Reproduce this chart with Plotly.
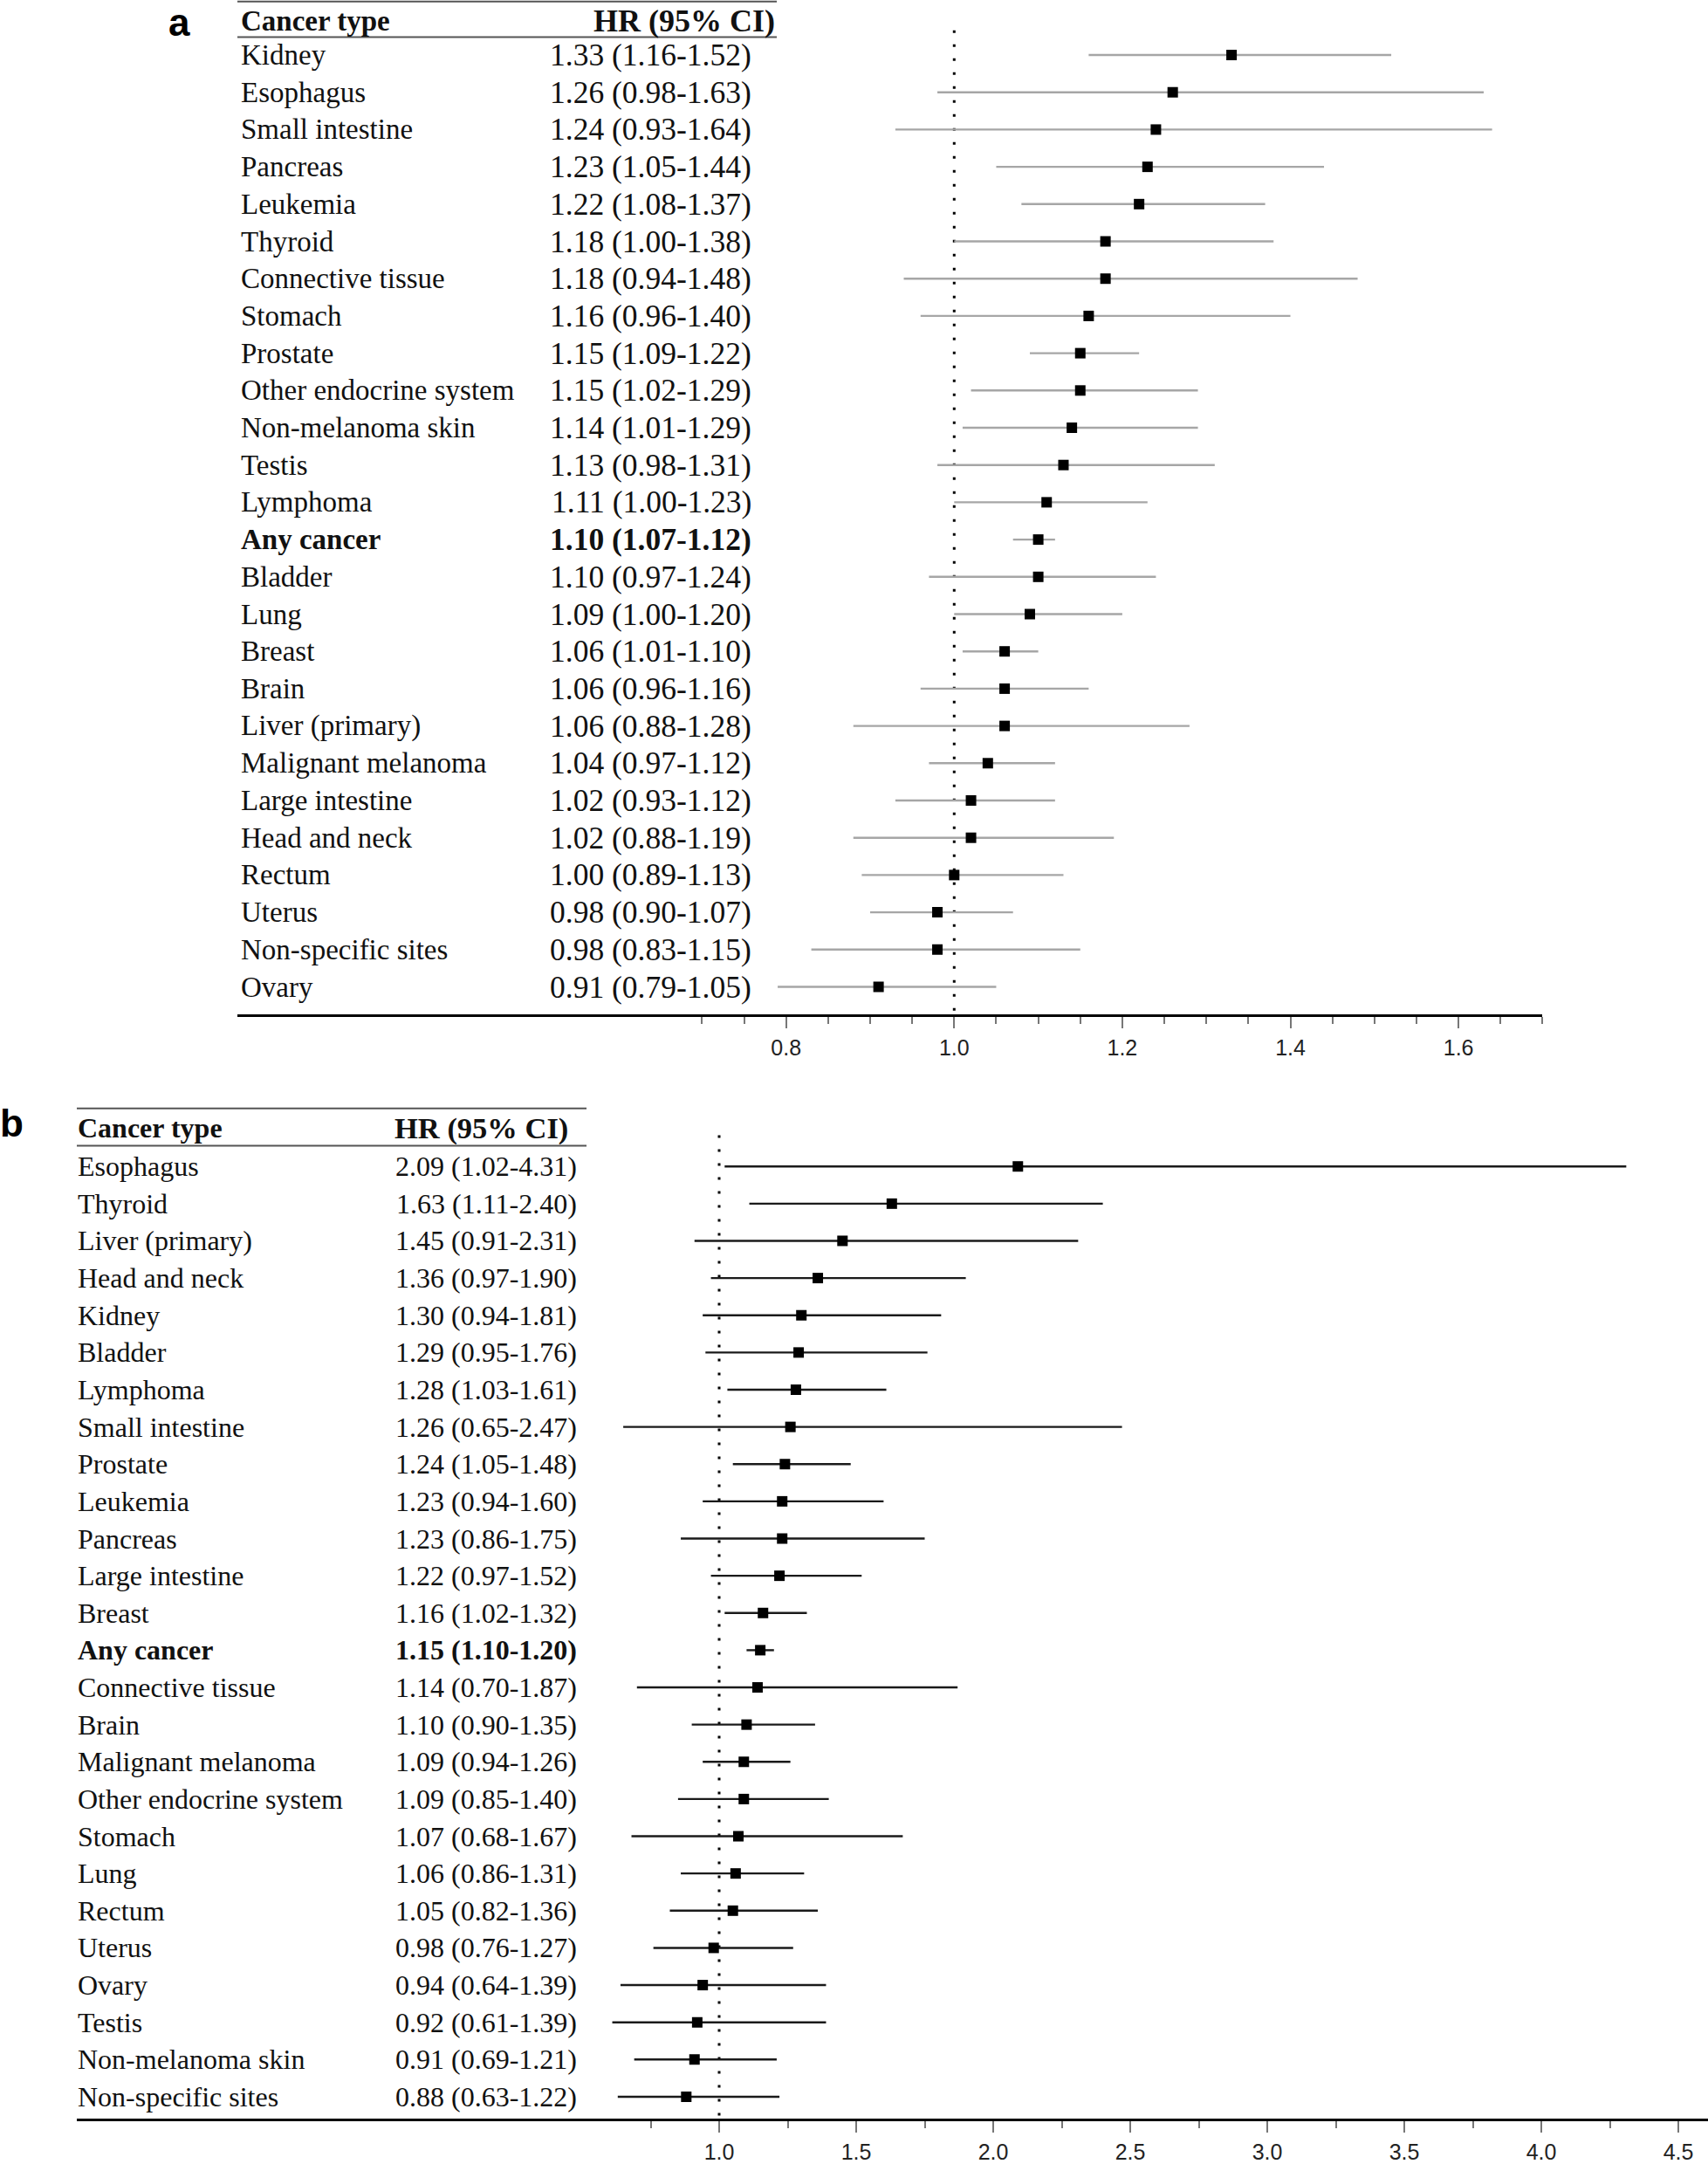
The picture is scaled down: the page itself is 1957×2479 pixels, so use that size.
import plotly.graph_objects as go

W, H = 1957, 2479

# ---------------- data ----------------
names_a = ["Kidney", "Esophagus", "Small intestine", "Pancreas", "Leukemia", "Thyroid",
           "Connective tissue", "Stomach", "Prostate", "Other endocrine system",
           "Non-melanoma skin", "Testis", "Lymphoma", "Any cancer", "Bladder", "Lung",
           "Breast", "Brain", "Liver (primary)", "Malignant melanoma", "Large intestine",
           "Head and neck", "Rectum", "Uterus", "Non-specific sites", "Ovary"]
hr_a = [1.33, 1.26, 1.24, 1.23, 1.22, 1.18, 1.18, 1.16, 1.15, 1.15, 1.14, 1.13, 1.11,
        1.10, 1.10, 1.09, 1.06, 1.06, 1.06, 1.04, 1.02, 1.02, 1.00, 0.98, 0.98, 0.91]
lo_a = [1.16, 0.98, 0.93, 1.05, 1.08, 1.00, 0.94, 0.96, 1.09, 1.02, 1.01, 0.98, 1.00,
        1.07, 0.97, 1.00, 1.01, 0.96, 0.88, 0.97, 0.93, 0.88, 0.89, 0.90, 0.83, 0.79]
hi_a = [1.52, 1.63, 1.64, 1.44, 1.37, 1.38, 1.48, 1.40, 1.22, 1.29, 1.29, 1.31, 1.23,
        1.12, 1.24, 1.20, 1.10, 1.16, 1.28, 1.12, 1.12, 1.19, 1.13, 1.07, 1.15, 1.05]

names_b = ["Esophagus", "Thyroid", "Liver (primary)", "Head and neck", "Kidney", "Bladder",
           "Lymphoma", "Small intestine", "Prostate", "Leukemia", "Pancreas",
           "Large intestine", "Breast", "Any cancer", "Connective tissue", "Brain",
           "Malignant melanoma", "Other endocrine system", "Stomach", "Lung", "Rectum",
           "Uterus", "Ovary", "Testis", "Non-melanoma skin", "Non-specific sites"]
hr_b = [2.09, 1.63, 1.45, 1.36, 1.30, 1.29, 1.28, 1.26, 1.24, 1.23, 1.23, 1.22, 1.16,
        1.15, 1.14, 1.10, 1.09, 1.09, 1.07, 1.06, 1.05, 0.98, 0.94, 0.92, 0.91, 0.88]
lo_b = [1.02, 1.11, 0.91, 0.97, 0.94, 0.95, 1.03, 0.65, 1.05, 0.94, 0.86, 0.97, 1.02,
        1.10, 0.70, 0.90, 0.94, 0.85, 0.68, 0.86, 0.82, 0.76, 0.64, 0.61, 0.69, 0.63]
hi_b = [4.31, 2.40, 2.31, 1.90, 1.81, 1.76, 1.61, 2.47, 1.48, 1.60, 1.75, 1.52, 1.32,
        1.20, 1.87, 1.35, 1.26, 1.40, 1.67, 1.31, 1.36, 1.27, 1.39, 1.39, 1.21, 1.22]

ticks_a = [0.8, 1.0, 1.2, 1.4, 1.6]
minor_a = [0.70, 0.75, 0.85, 0.90, 0.95, 1.05, 1.10, 1.15, 1.25, 1.30, 1.35, 1.45,
           1.50, 1.55, 1.65, 1.70]
ticks_b = [1.0, 1.5, 2.0, 2.5, 3.0, 3.5, 4.0, 4.5]
minor_b = [0.75, 1.25, 1.75, 2.25, 2.75, 3.25, 3.75, 4.25]

BOLD_ROW = "Any cancer"
HEAD_NAME = "Cancer type"
HEAD_HR = "HR (95% CI)"

SERIF = "Liberation Serif, Times New Roman, serif"
SANS = "Liberation Sans, Arial, sans-serif"


def px(x):
    return x / W


def py(y):
    return 1 - y / H


fig = go.Figure()

# axes geometry (pixels)
a_left, a_right, a_axis = 272, 1767.4, 1165
a_v1, a_scale = 1093.3, 963.0
b_left, b_right, b_axis = 88, 1957, 2434
b_v1, b_scale = 824.0, 314.0

a_range = [1.0 + (a_left - a_v1) / a_scale, 1.0 + (a_right - a_v1) / a_scale]
b_range = [1.0 + (b_left - b_v1) / b_scale, 1.0 + (b_right - b_v1) / b_scale]

row0_a, step_a = 63.2, 42.82
row0_b, step_b = 1340.0, 42.75
a_top, b_top = 0, 1250
ya_range = [(a_axis - row0_a) / step_a, (a_top - row0_a) / step_a]
yb_range = [(b_axis - row0_b) / step_b, (b_top - row0_b) / step_b]

# ---------------- panels ----------------
panels = [
    dict(names=names_a, hr=hr_a, lo=lo_a, hi=hi_a, xa="x", ya="y",
         line_color="#a6a6a6", line_w=2.4, name_x=275, hr_x=862, fsize=33,
         hr_fsize=35.5, head_hr_fsize=36, head_hr_x=889,
         head_y=-0.91, top_line=-1.436, sub_line=-0.479, line_x0=272, line_x1=890,
         dot_top=-0.66, dot_bot=ya_range[0], dotdash="3px,13px"),
    dict(names=names_b, hr=hr_b, lo=lo_b, hi=hi_b, xa="x2", ya="y2",
         line_color="#1a1a1a", line_w=2.4, name_x=88, hr_x=662, fsize=32,
         hr_fsize=32, head_hr_fsize=34.5, head_hr_x=652,
         head_y=-1.03, top_line=-1.56, sub_line=-0.554, line_x0=88, line_x1=672,
         dot_top=-0.84, dot_bot=yb_range[0], dotdash="3px,13px"),
]

annotations = []
shapes = []

for p in panels:
    n = len(p["names"])
    rows = list(range(n))
    fig.add_trace(go.Scatter(
        x=p["hr"], y=rows, xaxis=p["xa"], yaxis=p["ya"], mode="markers",
        marker=dict(symbol="square", size=12, color="black"),
        error_x=dict(type="data", symmetric=False,
                     array=[h - m for h, m in zip(p["hi"], p["hr"])],
                     arrayminus=[m - l for m, l in zip(p["hr"], p["lo"])],
                     color=p["line_color"], thickness=p["line_w"], width=0),
        showlegend=False, hoverinfo="skip"))

    yref = p["ya"]
    for i, (nm, h, l, u) in enumerate(zip(p["names"], p["hr"], p["lo"], p["hi"])):
        label = nm
        val = f"{h:.2f} ({l:.2f}-{u:.2f})"
        if nm == BOLD_ROW:
            label = f"<b>{label}</b>"
            val = f"<b>{val}</b>"
        annotations.append(dict(x=px(p["name_x"]), xref="paper", y=i, yref=yref,
                                text=label, showarrow=False, xanchor="left",
                                yanchor="middle", borderpad=0,
                                font=dict(family=SERIF, size=p["fsize"], color="#111")))
        annotations.append(dict(x=px(p["hr_x"]), xref="paper", y=i, yref=yref,
                                text=val, showarrow=False, xanchor="right",
                                yanchor="middle", borderpad=0,
                                font=dict(family=SERIF, size=p["hr_fsize"], color="#111")))
    annotations.append(dict(x=px(p["name_x"]), xref="paper", y=p["head_y"], yref=yref,
                            text=f"<b>{HEAD_NAME}</b>", showarrow=False, xanchor="left",
                            yanchor="middle", borderpad=0,
                            font=dict(family=SERIF, size=p["fsize"], color="#111")))
    annotations.append(dict(x=px(p["head_hr_x"]), xref="paper", y=p["head_y"], yref=yref,
                            text=f"<b>{HEAD_HR}</b>", showarrow=False, xanchor="right",
                            yanchor="middle", borderpad=0,
                            font=dict(family=SERIF, size=p["head_hr_fsize"], color="#111")))
    for yy in (p["top_line"], p["sub_line"]):
        shapes.append(dict(type="line", xref="paper", yref=yref,
                           x0=px(p["line_x0"]), x1=px(p["line_x1"]), y0=yy, y1=yy,
                           line=dict(color="#555555", width=2)))
    # reference line at HR = 1
    shapes.append(dict(type="line", xref=p["xa"], yref=yref,
                       x0=1.0, x1=1.0, y0=p["dot_top"], y1=p["dot_bot"],
                       line=dict(color="black", width=3, dash=p["dotdash"]),
                       layer="below"))

# panel letters
annotations.append(dict(x=px(205), xref="paper", y=1, yref="paper", text="<b>a</b>",
                        showarrow=False, xanchor="center", yanchor="top", borderpad=0,
                        font=dict(family=SANS, size=44, color="black")))
annotations.append(dict(x=px(-2), xref="paper", y=py(1290), yref="paper", text="<b>b</b>",
                        showarrow=False, xanchor="left", yanchor="middle",
                        font=dict(family=SANS, size=44, color="black")))


def xaxis_cfg(domain, rng, tv, mv, lw, anchor):
    return dict(domain=domain, range=rng, anchor=anchor, showgrid=False, zeroline=False,
                showline=True, linecolor="black", linewidth=lw,
                tickmode="array", tickvals=tv, ticktext=[f"{t:.1f}" for t in tv],
                ticks="outside", ticklen=13, tickwidth=1.5, tickcolor="#777777",
                ticklabelstandoff=1,
                tickfont=dict(family=SANS, size=25, color="#222"),
                minor=dict(tickmode="array", tickvals=mv, ticks="outside", ticklen=8,
                           tickwidth=1.5, tickcolor="#777777", showgrid=False),
                fixedrange=True)


def yaxis_cfg(domain, rng, anchor):
    return dict(domain=domain, range=rng, visible=False, showgrid=False,
                zeroline=False, anchor=anchor, fixedrange=True)


fig.update_layout(
    width=W, height=H, margin=dict(l=0, r=0, t=0, b=0),
    paper_bgcolor="white", plot_bgcolor="white",
    xaxis=xaxis_cfg([px(a_left), px(a_right)], a_range, ticks_a, minor_a, 3, "y"),
    yaxis=yaxis_cfg([py(a_axis), py(a_top)], ya_range, "x"),
    xaxis2=xaxis_cfg([px(b_left), px(b_right)], b_range, ticks_b, minor_b, 2.5, "y2"),
    yaxis2=yaxis_cfg([py(b_axis), py(b_top)], yb_range, "x2"),
    annotations=annotations, shapes=shapes,
)

fig.write_html("out.html",
               config={"displayModeBar": False},
               post_script="document.body.style.margin='0';"
                           "document.body.style.overflow='hidden';")
